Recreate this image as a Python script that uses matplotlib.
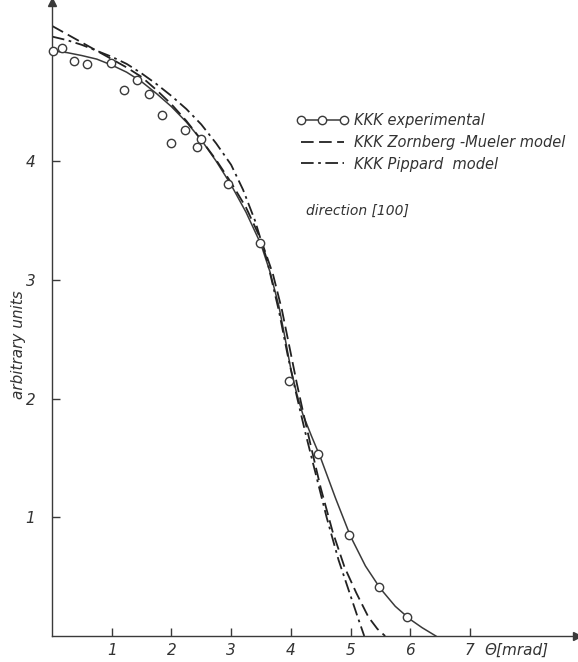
import matplotlib
matplotlib.use('Agg')
import matplotlib.pyplot as plt
from matplotlib.lines import Line2D

# messpunkte (experimental)
exp_x = [0.01, 0.17, 0.37, 0.59, 0.99, 1.21, 1.43, 1.63, 1.84, 2.00, 2.23, 2.43, 2.50,
         2.95, 3.48, 3.97, 4.46, 4.97, 5.48, 5.95]
exp_y = [4.93, 4.95, 4.84, 4.82, 4.83, 4.60, 4.68, 4.57, 4.39, 4.15, 4.26, 4.12, 4.19,
         3.81, 3.31, 2.15, 1.53, 0.85, 0.41, 0.16]

# ausgleichskurve durch die messpunkte
fit_x = [0.0, 0.25, 0.5, 0.75, 1.0, 1.25, 1.5, 1.75, 2.0, 2.25, 2.5, 2.75, 3.0, 3.25,
         3.5, 3.65, 3.8, 3.9, 4.0, 4.1, 4.2, 4.35, 4.5, 4.75, 5.0, 5.25, 5.5, 5.75,
         6.0, 6.2, 6.43]
fit_y = [4.93, 4.915, 4.89, 4.86, 4.81, 4.75, 4.67, 4.57, 4.46, 4.33, 4.18, 4.00, 3.80,
         3.57, 3.30, 3.07, 2.78, 2.52, 2.25, 2.04, 1.87, 1.68, 1.50, 1.16, 0.84, 0.59,
         0.40, 0.25, 0.14, 0.07, 0.0]

# Zornberg-Mueler model
zm_x = [0.0, 0.25, 0.5, 0.75, 1.0, 1.25, 1.5, 1.75, 2.0, 2.25, 2.5, 2.75, 3.0, 3.25,
        3.5, 3.7, 3.85, 4.0, 4.1, 4.2, 4.35, 4.5, 4.7, 4.9, 5.1, 5.3, 5.45, 5.58]
zm_y = [5.14, 5.07, 5.00, 4.93, 4.86, 4.79, 4.71, 4.60, 4.48, 4.34, 4.18, 4.01, 3.82,
        3.61, 3.34, 3.05, 2.75, 2.38, 2.13, 1.90, 1.57, 1.25, 0.88, 0.58, 0.36, 0.16,
        0.06, 0.0]

# Pippard model
pip_x = [0.0, 0.25, 0.5, 0.75, 1.0, 1.25, 1.5, 1.75, 2.0, 2.25, 2.5, 2.75, 3.0, 3.2,
         3.4, 3.6, 3.8, 3.95, 4.1, 4.25, 4.4, 4.6, 4.8, 5.0, 5.12, 5.23]
pip_y = [5.05, 5.02, 4.98, 4.93, 4.88, 4.82, 4.74, 4.65, 4.55, 4.44, 4.31, 4.15, 3.97,
         3.76, 3.50, 3.17, 2.74, 2.36, 2.02, 1.70, 1.40, 1.00, 0.64, 0.34, 0.16, 0.0]

xticks = [1, 2, 3, 4, 5, 6, 7]
yticks = [1, 2, 3, 4]

col = '#3a3a3a'
txt = '#333333'
plt.rcParams['font.family'] = ['DejaVu Sans']

fig = plt.figure(figsize=(5.78, 6.62), dpi=100)
ax = fig.add_axes([52/578, 26/662, 525/578, 634/662])
ax.set_xlim(0, 525/59.7)
ax.set_ylim(0, 634/118.7)

ax.plot(fit_x, fit_y, '-', color=col, lw=1.1)
ax.plot(zm_x, zm_y, color='#222222', lw=1.3, dashes=(7, 3))
ax.plot(pip_x, pip_y, color='#222222', lw=1.3, dashes=(7, 2.5, 1.5, 2.5))
ax.plot(exp_x, exp_y, 'o', mfc='white', mec=col, ms=6, mew=1.0, clip_on=False, zorder=5)

for s in ['top', 'right']:
    ax.spines[s].set_visible(False)
for s in ['left', 'bottom']:
    ax.spines[s].set_color(col)
    ax.spines[s].set_linewidth(1.0)

# pfeile an den achsen
ax.plot(1, 0, '>', color=col, ms=6, transform=ax.transAxes, clip_on=False)
ax.plot(0, 1, '^', color=col, ms=6, transform=ax.transAxes, clip_on=False)

ax.set_xticks(xticks)
ax.set_yticks(yticks)
ax.set_xticklabels([str(t) for t in xticks], style='italic', fontsize=11, color=txt)
ax.set_yticklabels([str(t) for t in yticks], style='italic', fontsize=11, color=txt)
ax.tick_params(direction='in', length=6, width=1.0, color=col)
ax.tick_params(axis='x', pad=5)
ax.tick_params(axis='y', pad=12)

ax.set_ylabel('arbitrary units', style='italic', fontsize=11, color=txt)
ax.yaxis.set_label_coords(-0.05, 0.46)
ax.annotate('Θ[mrad]', xy=(7.25, 0), xycoords=('data', 'axes fraction'),
            xytext=(0, -10), textcoords='offset points', style='italic', fontsize=11,
            color=txt, ha='left', va='center', annotation_clip=False)

handles = [
    Line2D([], [], color=col, lw=1.1, marker='o', mfc='white', mec=col, ms=6),
    Line2D([], [], color='#222222', lw=1.3, dashes=(7, 3)),
    Line2D([], [], color='#222222', lw=1.3, dashes=(7, 2.5, 1.5, 2.5)),
]
labels = ['KKK experimental', 'KKK Zornberg -Mueler model', 'KKK Pippard  model']
leg = ax.legend(handles, labels, loc='upper left', bbox_to_anchor=(0.44, 0.845),
                frameon=False, numpoints=3, handlelength=3.6, handletextpad=0.4,
                labelspacing=0.45, prop={'style': 'italic', 'size': 10.5})
for t in leg.get_texts():
    t.set_color(txt)

ax.text(4.25, 3.58, 'direction [100]', style='italic', fontsize=10, color=txt,
        ha='left', va='center')

plt.savefig('out.png', dpi=100)
